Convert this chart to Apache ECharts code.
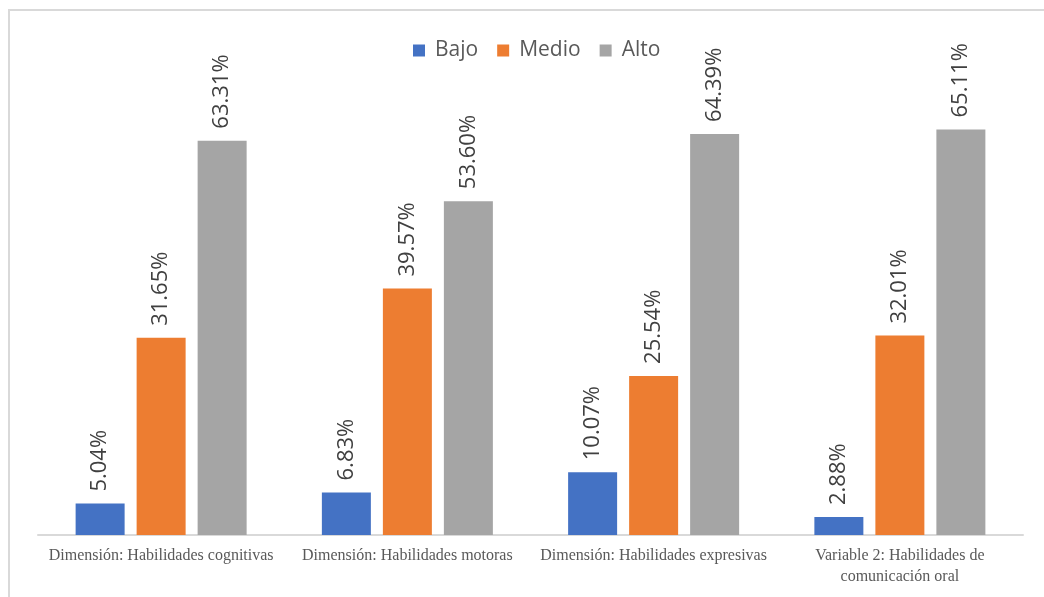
<!DOCTYPE html>
<html>
<head>
<meta charset="utf-8">
<script src="https://cdn.jsdelivr.net/npm/echarts@6/dist/echarts.min.js"></script>
<style>html,body{margin:0;padding:0;background:#fff}#c{width:1044px;height:597px}</style>
</head>
<body>
<div id="c"></div>
<script>
const categories = [
  "Dimensión: Habilidades cognitivas",
  "Dimensión: Habilidades motoras",
  "Dimensión: Habilidades expresivas",
  "Variable 2: Habilidades de\ncomunicación oral"
];
const seriesNames = ["Bajo", "Medio", "Alto"];
const bajo = [5.04, 6.83, 10.07, 2.88];
const medio = [31.65, 39.57, 25.54, 32.01];
const alto = [63.31, 53.60, 64.39, 65.11];
const colors = ["#4472C4", "#ED7D31", "#A5A5A5"];

const chart = echarts.init(document.getElementById('c'), null, {renderer: 'canvas'});
const mk = (name, data, color) => ({
  name: name,
  type: 'bar',
  data: data,
  barWidth: 49,
  barGap: '24.5%',
  itemStyle: {color: color},
  label: {
    show: true,
    position: 'top',
    rotate: 90,
    align: 'left',
    verticalAlign: 'middle',
    distance: 12,
    color: '#404040',
    fontFamily: 'Open Sans',
    fontSize: 22,
    formatter: p => p.value.toFixed(2) + '%'
  }
});
chart.setOption({
  animation: false,
  backgroundColor: '#fff',
  graphic: [{
    type: 'rect',
    shape: {x: 9, y: 10, width: 1200, height: 800},
    style: {fill: 'none', stroke: '#d9d9d9', lineWidth: 2},
    silent: true
  }],
  legend: {
    data: seriesNames,
    left: 408,
    top: 35,
    itemWidth: 12,
    itemHeight: 12,
    itemGap: 19,
    icon: 'rect',
    textStyle: {color: '#595959', fontFamily: 'Open Sans', fontSize: 21, padding: [0, 0, 0, 5]}
  },
  grid: {left: 38, right: 21, top: 99, bottom: 62, containLabel: false},
  xAxis: {
    type: 'category',
    data: categories,
    axisLine: {lineStyle: {color: '#d9d9d9', width: 2}},
    axisTick: {show: false},
    axisLabel: {
      color: '#595959',
      fontFamily: 'Liberation Serif',
      fontSize: 16,
      lineHeight: 21,
      margin: 10,
      interval: 0
    }
  },
  yAxis: {
    type: 'value',
    min: 0,
    max: 70,
    interval: 10,
    show: false,
    splitLine: {show: false}
  },
  series: [mk(seriesNames[0], bajo, colors[0]), mk(seriesNames[1], medio, colors[1]), mk(seriesNames[2], alto, colors[2])]
});
</script>
</body>
</html>
